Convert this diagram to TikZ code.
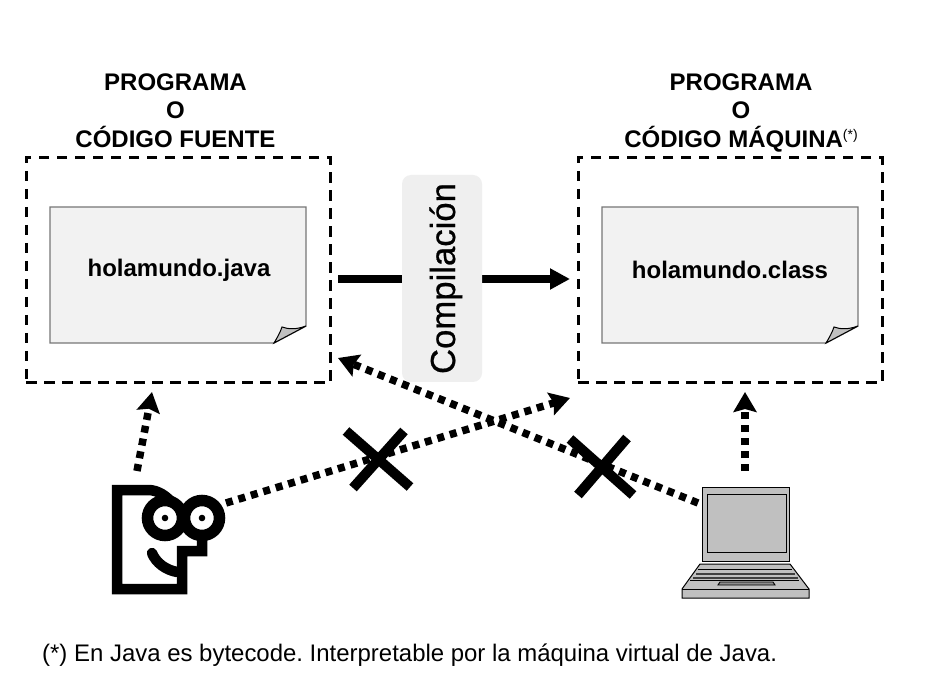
\documentclass[tikz,border=0pt]{standalone}
\usepackage{fontspec}
\setmainfont{Liberation Sans}
\usetikzlibrary{arrows.meta}
\definecolor{docfill}{HTML}{F2F2F2}
\definecolor{docline}{HTML}{777777}
\definecolor{pillfill}{HTML}{EFEFEF}
\definecolor{lapgrey}{HTML}{C0C0C0}
\tikzset{
  x=1pt,y=-1pt,
  dashbox/.style={draw=black,line width=3pt,dash pattern=on 10.5pt off 7.5pt,minimum width=304pt,minimum height=225pt,inner sep=0pt,outer sep=0pt,anchor=north west},
  heading/.style={font=\fontsize{24}{28.5}\selectfont\bfseries,align=center,inner sep=0pt,anchor=north},
  docname/.style={font=\fontsize{24}{28}\selectfont\bfseries,inner sep=0pt},
  docshape/.style={fill=docfill,draw=docline,line width=1.4pt},
  foldshape/.style={fill=lapgrey,draw=black,line width=1pt},
  mainarrow/.style={line width=7.5pt,-{Triangle[length=20pt,width=20pt]}},
  dotarrow/.style={line width=7.5pt,dash pattern=on 7pt off 6pt,-{Stealth[length=20pt,width=23pt,inset=3pt]}},
  crossline/.style={line width=10pt},
  face/.style={line width=10.5pt,draw=black},
  lap/.style={draw=black,line width=1pt,fill=lapgrey}
}
\begin{document}
\begin{tikzpicture}
\useasboundingbox (0,0) rectangle (937,700);
\fill[white] (0,0) rectangle (937,700);

% headings
\node[heading] (h1) at (175.5,73.5) {PROGRAMA\\O\\CÓDIGO FUENTE};
\node[heading] (h2) at (741,73.5) {PROGRAMA\\O\\CÓDIGO MÁQUINA\raisebox{8pt}{\fontsize{14}{14}\selectfont\mdseries(*)}};

% dashed boxes
\node[dashbox] (src) at (26,158) {};
\node[dashbox] (tgt) at (578,158) {};

% documents
\draw[docshape] (50,207) -- (306,207) -- (306,326) -- (274,343) -- (50,343) -- cycle;
\draw[foldshape] (306,326) .. controls (295,330) and (288,329) .. (282,327) .. controls (280,333) and (277,338) .. (274,343) -- cycle;
\node[docname] (f1) at (179,270) {holamundo.java};
\draw[docshape] (602,207) -- (858,207) -- (858,326) -- (826,343) -- (602,343) -- cycle;
\draw[foldshape] (858,326) .. controls (847,330) and (840,329) .. (834,327) .. controls (832,333) and (829,338) .. (826,343) -- cycle;
\node[docname] (f2) at (730,270) {holamundo.class};

% compile arrow with pill over it
\draw[mainarrow,shorten <=8pt,shorten >=8pt] (src.east |- 0,279) coordinate (m1) -- (tgt.west |- 0,279) coordinate (m2);
\node[fill=pillfill,rounded corners=9pt,minimum width=80pt,minimum height=207pt,inner sep=0pt] (pill) at (442,278.5) {};
\node[rotate=90,anchor=base,inner sep=0pt,font=\fontsize{34.7}{35}\selectfont] (comp) at (455,278.5) {\addfontfeature{FakeBold=0.7}Compilación};

% person
\draw[face] (175,506) .. controls (167,496) and (158,490) .. (148,490) -- (117,490) -- (117,589) -- (182,589) -- (182,551) -- (202,551) -- (202,535);
\draw[line width=10.5pt,line cap=round] (152,553) .. controls (156,563) and (166,570) .. (177,572);
\draw[fill=white,line width=11.5pt] (165,518) circle[radius=17.5] (202,518) circle[radius=17.5];
\fill (165,518) circle[radius=3.3] (202,518) circle[radius=3.3];
\coordinate (pA) at (137,471);
\coordinate (pB) at (226,503);

% laptop
\draw[lap] (702,487) rectangle (789,561);
\draw[lap] (707,494) rectangle (786,552);
\draw[lap] (700,564) -- (790,564) -- (809,589) -- (809,598) -- (682,598) -- (682,589) -- cycle;
\draw[line width=1pt] (682,589) -- (809,589);
\draw[line width=1pt] (698,569) -- (792,569);
\draw[line width=1.5pt,draw=black!75] (696,574) -- (795,574);
\draw[line width=1.5pt,draw=black!75] (693,578) -- (798,578);
\draw[line width=1pt] (690,580.5) -- (799,580.5);
\draw[line width=0.9pt,fill=black!45] (718,585) -- (720,582) -- (773,582) -- (775,585) -- cycle;
\coordinate (lA) at (745,471);
\coordinate (lB) at (698,503);

% dotted connectors
\coordinate (sA) at (152,392);
\coordinate (tA) at (745,392);
\coordinate (sB) at (338,358);
\coordinate (tB) at (570,398);
\draw[dotarrow] (pA) -- (sA);
\draw[dotarrow] (lA) -- (tA);
\draw[dotarrow] (pB) -- (tB);
\draw[dotarrow] (lB) -- (sB);

% crosses
\draw[crossline] (346,431) -- (410,487);
\draw[crossline] (353,488) -- (404,431);
\draw[crossline] (570,439) -- (633,495);
\draw[crossline] (578,495) -- (627,438);

% footnote
\node[font=\fontsize{23.95}{28}\selectfont,inner sep=0pt,anchor=west] (note) at (42,655) {\frenchspacing (*) En Java es bytecode. Interpretable por la máquina virtual de Java.};
\end{tikzpicture}
\end{document}
